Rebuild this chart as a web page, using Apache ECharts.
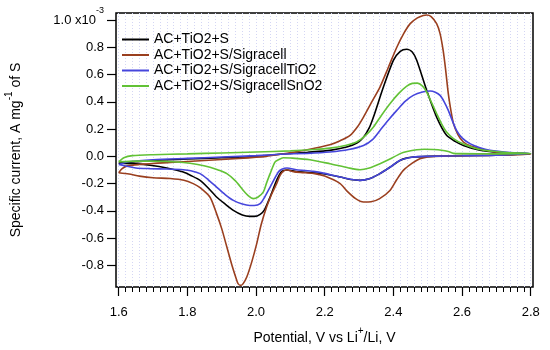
<!DOCTYPE html>
<html><head><meta charset="utf-8">
<script src="https://cdn.jsdelivr.net/npm/echarts@6/dist/echarts.min.js"></script>
<style>html,body{margin:0;padding:0;background:#fff}#c{width:550px;height:350px}</style>
</head><body><div id="c"></div>
<script>
// ---- data (current in units of 1e-3 A mg^-1 of S) ----
const seriesNames = ['AC+TiO2+S', 'AC+TiO2+S/Sigracell', 'AC+TiO2+S/SigracellTiO2', 'AC+TiO2+S/SigracellSnO2'];
const seriesColors = ['#000000', '#9a3f1f', '#4646dc', '#62c236'];

const xMajorTicks = [1.6, 1.8, 2.0, 2.2, 2.4, 2.6, 2.8];
const yTicks = [-0.8, -0.6, -0.4, -0.2, 0.0, 0.2, 0.4, 0.6, 0.8, 1.0];

const blackV = [1.6,1.65,1.7,1.8,1.9,2.0,2.07,2.15,2.215,2.264,2.295,2.313,2.33,2.342,2.371,2.4,2.42,2.439,2.455,2.468,2.497,2.526,2.555,2.58,2.604,2.652,2.7,2.8,
  2.7,2.6,2.5,2.458,2.435,2.419,2.39,2.361,2.33,2.303,2.275,2.245,2.2,2.167,2.118,2.09,2.075,2.06,2.041,2.025,2.012,1.995,1.982,1.96,1.934,1.91,1.885,1.86,1.837,1.81,1.788,1.74,1.691,1.65,1.6];
const blackI = [-0.05,-0.04,-0.03,-0.02,-0.01,0.0,0.015,0.03,0.044,0.068,0.1,0.14,0.21,0.288,0.508,0.704,0.77,0.785,0.765,0.704,0.484,0.288,0.154,0.11,0.08,0.044,0.03,0.02,
  0.008,0.005,0.0,-0.005,-0.015,-0.03,-0.08,-0.127,-0.165,-0.176,-0.17,-0.152,-0.13,-0.12,-0.112,-0.1,-0.11,-0.176,-0.298,-0.39,-0.425,-0.44,-0.44,-0.43,-0.396,-0.35,-0.298,-0.23,-0.176,-0.14,-0.115,-0.085,-0.065,-0.055,-0.05];

const brownV = [1.6,1.61,1.625,1.66,1.75,1.85,1.95,2.03,2.07,2.12,2.167,2.215,2.245,2.274,2.295,2.313,2.335,2.361,2.385,2.41,2.43,2.449,2.47,2.487,2.497,2.51,2.526,2.536,2.545,2.552,2.56,2.568,2.575,2.588,2.604,2.625,2.652,2.7,2.74,2.8,
  2.7,2.6,2.52,2.5,2.477,2.455,2.429,2.41,2.39,2.36,2.335,2.313,2.29,2.265,2.245,2.2,2.167,2.13,2.109,2.09,2.079,2.07,2.06,2.045,2.031,2.015,2.002,1.988,1.973,1.962,1.955,1.948,1.944,1.93,1.915,1.9,1.885,1.866,1.837,1.817,1.79,1.75,1.7,1.66,1.63,1.6];
const brownI = [-0.12,-0.09,-0.07,-0.06,-0.045,-0.03,-0.015,0.0,0.015,0.035,0.058,0.085,0.115,0.154,0.215,0.288,0.39,0.508,0.65,0.8,0.9,0.973,1.015,1.033,1.036,1.025,0.973,0.9,0.777,0.64,0.46,0.33,0.24,0.16,0.105,0.075,0.056,0.03,0.02,0.015,
  0.008,0.004,0.0,-0.004,-0.017,-0.05,-0.103,-0.17,-0.25,-0.31,-0.333,-0.335,-0.31,-0.255,-0.2,-0.145,-0.125,-0.118,-0.112,-0.1,-0.11,-0.14,-0.2,-0.28,-0.37,-0.5,-0.64,-0.77,-0.885,-0.935,-0.946,-0.935,-0.91,-0.8,-0.665,-0.53,-0.42,-0.3,-0.23,-0.2,-0.175,-0.162,-0.157,-0.145,-0.13,-0.12];

const blueV = [1.6,1.63,1.7,1.8,1.9,2.0,2.07,2.15,2.215,2.27,2.313,2.34,2.361,2.385,2.41,2.435,2.458,2.485,2.507,2.522,2.536,2.548,2.56,2.572,2.584,2.6,2.623,2.65,2.681,2.74,2.8,
  2.7,2.6,2.5,2.458,2.419,2.39,2.361,2.33,2.303,2.275,2.245,2.2,2.167,2.118,2.09,2.075,2.065,2.041,2.025,2.012,1.995,1.982,1.96,1.934,1.91,1.885,1.86,1.837,1.81,1.788,1.74,1.691,1.65,1.6];
const blueI = [-0.06,-0.04,-0.025,-0.015,-0.005,0.005,0.015,0.022,0.032,0.05,0.08,0.125,0.19,0.265,0.337,0.405,0.447,0.472,0.479,0.47,0.447,0.4,0.337,0.26,0.19,0.135,0.093,0.065,0.044,0.028,0.02,
  0.008,0.004,0.0,-0.005,-0.03,-0.08,-0.127,-0.165,-0.176,-0.168,-0.152,-0.125,-0.11,-0.098,-0.085,-0.095,-0.115,-0.225,-0.3,-0.347,-0.36,-0.36,-0.35,-0.323,-0.28,-0.225,-0.17,-0.127,-0.105,-0.098,-0.093,-0.09,-0.085,-0.06];

const greenV = [1.6,1.615,1.64,1.7,1.8,1.9,2.0,2.1,2.17,2.215,2.26,2.293,2.32,2.342,2.365,2.39,2.415,2.439,2.455,2.47,2.485,2.497,2.512,2.526,2.54,2.555,2.575,2.604,2.652,2.72,2.8,
  2.7,2.6,2.575,2.56,2.54,2.517,2.49,2.468,2.44,2.42,2.39,2.361,2.33,2.303,2.27,2.215,2.157,2.1,2.079,2.065,2.055,2.041,2.03,2.021,2.005,1.992,1.978,1.963,1.94,1.915,1.89,1.866,1.83,1.788,1.74,1.691,1.65,1.6];
const greenI = [-0.04,-0.01,0.005,0.012,0.018,0.025,0.032,0.04,0.05,0.06,0.08,0.105,0.155,0.215,0.3,0.386,0.46,0.515,0.535,0.537,0.515,0.471,0.39,0.313,0.24,0.178,0.13,0.09,0.05,0.03,0.02,
  0.018,0.02,0.022,0.035,0.045,0.05,0.052,0.048,0.035,0.02,-0.02,-0.054,-0.085,-0.098,-0.085,-0.054,-0.025,-0.012,-0.01,-0.025,-0.042,-0.127,-0.2,-0.262,-0.3,-0.31,-0.29,-0.25,-0.18,-0.127,-0.1,-0.08,-0.06,-0.045,-0.038,-0.035,-0.035,-0.04];

// ---- build ----
const zip = (v, i) => v.map((x, k) => [x, i[k]]);
const allData = [zip(blackV, blackI), zip(brownV, brownI), zip(blueV, blueI), zip(greenV, greenI)];
const xMinorTicks = [];
for (let k = 0; k <= 60; k++) xMinorTicks.push(Math.round((1.6 + 0.02 * k) * 100) / 100);

const FONT = "'Liberation Sans', Arial, Helvetica, sans-serif";
const XMIN = 1.5921, XMAX = 2.8067, YMIN = -0.958, YMAX = 1.051;

const chart = echarts.init(document.getElementById('c'), null, {renderer: 'canvas'});
chart.setOption({
  animation: false,
  backgroundColor: '#ffffff',
  textStyle: {fontFamily: FONT},
  grid: {left: 116, right: 17, top: 13, bottom: 63, outerBoundsMode: 'none', containLabel: false,
    show: true, borderColor: '#000', borderWidth: 1.5, backgroundColor: 'transparent'},
  legend: {
    show: true, orient: 'vertical', left: 117, top: 27,
    icon: 'rect', itemWidth: 27, itemHeight: 2, itemGap: 0.5,
    textStyle: {fontSize: 14, color: '#000', fontFamily: FONT, lineHeight: 15},
    data: seriesNames
  },
  xAxis: [{
    type: 'value', min: XMIN, max: XMAX, position: 'bottom',
    name: 'Potential, V vs Li{s|+}/Li, V',
    nameLocation: 'middle', nameGap: 44,
    nameTextStyle: {fontSize: 14, color: '#000', fontFamily: FONT,
      rich: {s: {fontSize: 10, lineHeight: 10, padding: [0, 0, 14, 0], fontFamily: FONT, color: '#000'}}},
    axisLine: {show: false, onZero: false},
    axisTick: {show: true, inside: false, length: 9, customValues: xMajorTicks, lineStyle: {color: '#000', width: 1.2}},
    axisLabel: {show: true, customValues: xMajorTicks, margin: 19, fontSize: 13, color: '#000', fontFamily: FONT,
      formatter: v => v.toFixed(1)},
    splitLine: {show: false}
  }, {
    type: 'value', min: XMIN, max: XMAX, position: 'bottom',
    axisLine: {show: false, onZero: false},
    axisTick: {show: true, inside: false, length: 5, customValues: xMinorTicks, lineStyle: {color: '#000', width: 1}},
    axisLabel: {show: false, customValues: xMinorTicks},
    splitLine: {show: true, lineStyle: {color: '#d4d6f4', type: [1, 2], width: 1}}
  }],
  yAxis: {
    type: 'value', min: YMIN, max: YMAX,
    name: 'Specific current, A mg{s|-1} of S',
    nameLocation: 'middle', nameGap: 93,
    nameTextStyle: {fontSize: 14, color: '#000', fontFamily: FONT,
      rich: {s: {fontSize: 10, lineHeight: 10, padding: [0, 0, 14, 0], fontFamily: FONT, color: '#000'}}},
    axisLine: {show: false, onZero: false},
    axisTick: {show: true, inside: false, length: 9, customValues: yTicks, lineStyle: {color: '#000', width: 1.2}},
    axisLabel: {show: true, customValues: yTicks, margin: 12, fontSize: 13, color: '#000', fontFamily: FONT,
      formatter: v => (Math.abs(v - 1) < 1e-9 ? '{n|1.0 x10}{e|-3}' : v.toFixed(1)),
      rich: {
        n: {fontSize: 13, lineHeight: 15, fontFamily: FONT, color: '#000'},
        e: {fontSize: 9, lineHeight: 10, padding: [0, 0, 18, 0], fontFamily: FONT, color: '#000'}
      }},
    splitLine: {show: false}
  },
  series: seriesNames.map((name, k) => ({
    name: name, type: 'line', xAxisIndex: 0, yAxisIndex: 0,
    data: allData[k], showSymbol: false, symbol: 'none', smooth: 0.25,
    lineStyle: {color: seriesColors[k], width: 1.6},
    itemStyle: {color: seriesColors[k]},
    z: 3 + k
  }))
});
</script></body></html>
